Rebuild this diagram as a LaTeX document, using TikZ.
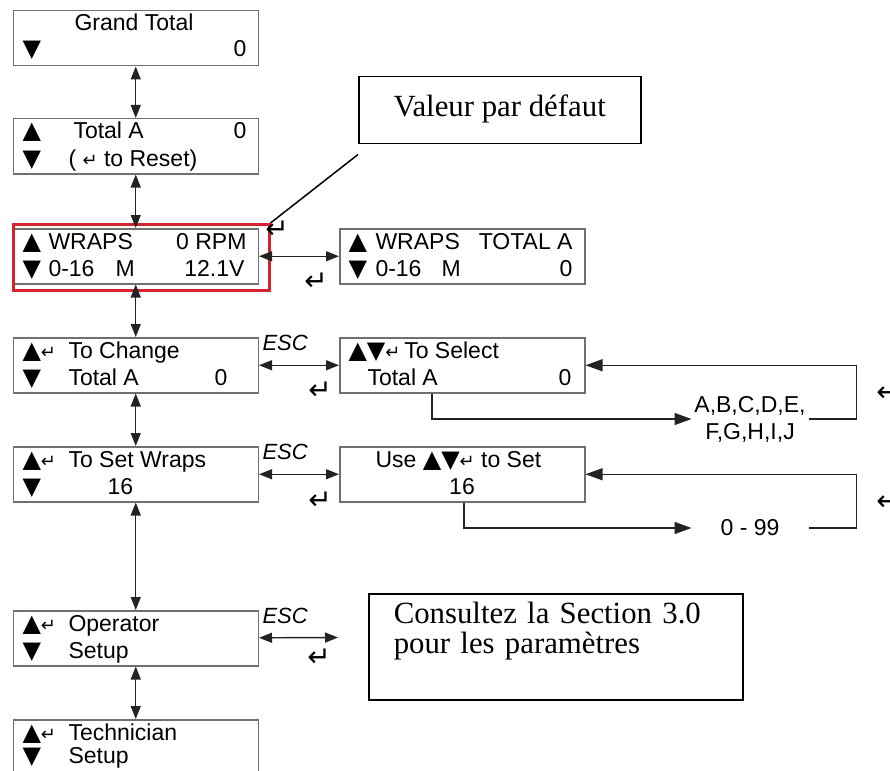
\documentclass[tikz,border=0pt]{standalone}
\usepackage{fontspec}
\setmainfont{Liberation Sans}
\newfontfamily\calloutfont{Liberation Serif}
\newfontfamily\arrowfont{DejaVu Sans}
\usetikzlibrary{arrows.meta}

\definecolor{lcdgray}{RGB}{112,112,112}
\definecolor{linkgray}{RGB}{35,35,35}
\definecolor{framered}{RGB}{212,35,45}

\newcommand{\keyup}{{\arrowfont\fontsize{24}{24}\selectfont ▲}}
\newcommand{\keydn}{{\arrowfont\fontsize{24}{24}\selectfont ▼}}
\newcommand{\entkey}{{\arrowfont\fontsize{18}{18}\selectfont ↵}}
\newcommand{\freekey}{{\arrowfont\fontsize{28}{28}\selectfont ↵}}

\tikzset{every picture/.style={line width=1pt}}

\begin{document}
\begin{tikzpicture}[x=1pt,y=1pt,yscale=-1,xscale=1,
  lcd/.style={draw=lcdgray,line width=1.5pt,minimum width=245pt,minimum height=55pt,inner sep=0pt,anchor=north west},
  txt/.style={anchor=base west,inner sep=0pt,font=\fontsize{23}{27}\selectfont},
  esc/.style={anchor=base west,inner sep=0pt,font=\fontsize{22}{26}\selectfont\itshape},
  key/.style={inner sep=0pt},
  conn/.style={draw=linkgray,line width=1.4pt,{Triangle[length=13pt,width=10pt]}-{Triangle[length=13pt,width=10pt]}},
  back/.style={draw=linkgray,line width=1.2pt,-{Triangle[length=17pt,width=12pt]}},
  choice/.style={inner sep=0pt,minimum width=116pt,align=center,font=\fontsize{23}{27}\selectfont},
  callout/.style={draw=black,line width=1.5pt,anchor=north west,inner sep=0pt,font=\calloutfont\fontsize{30.8}{30}\selectfont}]
\useasboundingbox (0,0) rectangle (890,770);

%Shape: LCD screens
\node[lcd] (grand) at (12.5,10) {};
\node[lcd] (totA) at (12.5,118) {};
\node[lcd] (wraps) at (12.5,228) {};
\node[lcd] (wrapsTot) at (339,228) {};
\node[lcd] (change) at (12.5,337) {};
\node[lcd] (select) at (339,337) {};
\node[lcd] (setWr) at (12.5,446) {};
\node[lcd] (useSet) at (339,446) {};
\node[lcd] (oper) at (12.5,610) {};
\node[lcd] (tech) at (12.5,719) {};

%Shape: red frame round the default screen
\node[draw=framered,line width=2.5pt,minimum width=256pt,minimum height=66pt,inner sep=0pt,anchor=north west] (frame) at (12,223) {};

%Shape: callouts
\node[callout,minimum width=282pt,text height=40pt,text depth=27pt] (valeur) at (358,76) {Valeur par défaut};
\node[callout,text width=324pt,inner xsep=25pt,align=left,text height=30pt,text depth=76pt] (consult) at (368,593) {Consultez la Section 3.0\\pour les paramètres};

%Straight Lines
\draw[conn] (grand) -- (totA);
\draw[conn] (totA) -- (wraps);
\draw[conn] (wraps) -- (change);
\draw[conn] (change) -- (setWr);
\draw[conn] (setWr) -- (oper);
\draw[conn] (oper) -- (tech);
\draw[conn] (wraps) -- (wrapsTot);
\draw[conn] (change) -- (select);
\draw[conn] (setWr) -- (useSet);
\coordinate (operEnd) at (338,637.5);
\draw[conn] (oper) -- (operEnd);
\draw[line width=1.5pt] (frame.north east) -- ([yshift=10pt]valeur.south west);

%Straight Lines: selection loops
\node[choice] (abc) at (750,419) {A,B,C,D,E,\\F,G,H,I,J};
\node[choice] (num) at (750,528) {0 - 99};
\draw[back] (select.south west) ++(93,0) |- (abc.west);
\draw[back] (abc.east) -- ++(48,0) |- (select.east);
\draw[back] (useSet.south west) ++(125,0) |- (num.west);
\draw[back] (num.east) -- ++(48,0) |- (useSet.east);

% Text Node
\node[txt,anchor=base] (gtA) at (134,31) {Grand Total};
\node[txt] (gtB) at (22,57) {\keydn};
\node[txt,anchor=base east] (gtC) at (247,57) {0};
% Text Node
\node[txt] (taA) at (22,139) {\keyup};
\node[txt] (taB) at (73,139) {Total A};
\node[txt,anchor=base east] (taC) at (247,139) {0};
\node[txt] (taD) at (22,167) {\keydn};
\node[txt] (taE) at (68,167) {( \entkey\ to Reset)};
% Text Node
\node[txt] (wrA) at (22,249) {\keyup};
\node[txt] (wrB) at (48,249) {WRAPS};
\node[txt,anchor=base east] (wrC) at (247,249) {0 RPM};
\node[txt] (wrD) at (22,276) {\keydn};
\node[txt] (wrE) at (48,276) {0-16};
\node[txt] (wrF) at (115,276) {M};
\node[txt,anchor=base east] (wrG) at (245,276) {12.1V};
% Text Node
\node[txt] (wtA) at (348,249) {\keyup};
\node[txt] (wtB) at (375,249) {WRAPS};
\node[txt,anchor=base east] (wtC) at (573,249) {TOTAL A};
\node[txt] (wtD) at (348,276) {\keydn};
\node[txt] (wtE) at (375,276) {0-16};
\node[txt] (wtF) at (441,276) {M};
\node[txt,anchor=base east] (wtG) at (573,276) {0};
% Text Node
\node[txt] (chA) at (22,358) {\keyup\entkey};
\node[txt] (chB) at (68,358) {To Change};
\node[txt] (chC) at (22,385) {\keydn};
\node[txt] (chD) at (68,385) {Total A};
\node[txt] (chE) at (214,385) {0};
% Text Node
\node[txt] (seA) at (348,358) {\keyup\keydn\entkey\,To Select};
\node[txt] (seB) at (367,385) {Total A};
\node[txt,anchor=base east] (seC) at (572,385) {0};
% Text Node
\node[txt] (swA) at (22,467) {\keyup\entkey};
\node[txt] (swB) at (68,467) {To Set Wraps};
\node[txt] (swC) at (22,494) {\keydn};
\node[txt] (swD) at (107,494) {16};
% Text Node
\node[txt] (usA) at (375,467) {Use \keyup\keydn\entkey\ to Set};
\node[txt,anchor=base] (usB) at (462,494) {16};
% Text Node
\node[txt] (opA) at (22,631) {\keyup\entkey};
\node[txt] (opB) at (68,631) {Operator};
\node[txt] (opC) at (22,658) {\keydn};
\node[txt] (opD) at (68,658) {Setup};
% Text Node
\node[txt] (teA) at (22,740) {\keyup\entkey};
\node[txt] (teB) at (68,740) {Technician};
\node[txt] (teC) at (22,763) {\keydn};
\node[txt] (teD) at (68,763) {Setup};

% Text Node: ESC
\node[esc] (escA) at (262,350) {ESC};
\node[esc] (escB) at (262,459) {ESC};
\node[esc] (escC) at (262,623) {ESC};

% Text Node: enter keys
\node[key] (kA) at (277,230) {\freekey};
\node[key] (kB) at (316,282) {\freekey};
\node[key] (kC) at (320,391) {\freekey};
\node[key] (kD) at (320,501) {\freekey};
\node[key] (kE) at (319,658) {\freekey};
\node[key] (kF) at (888,393) {\freekey};
\node[key] (kG) at (888,502) {\freekey};

\end{tikzpicture}
\end{document}
